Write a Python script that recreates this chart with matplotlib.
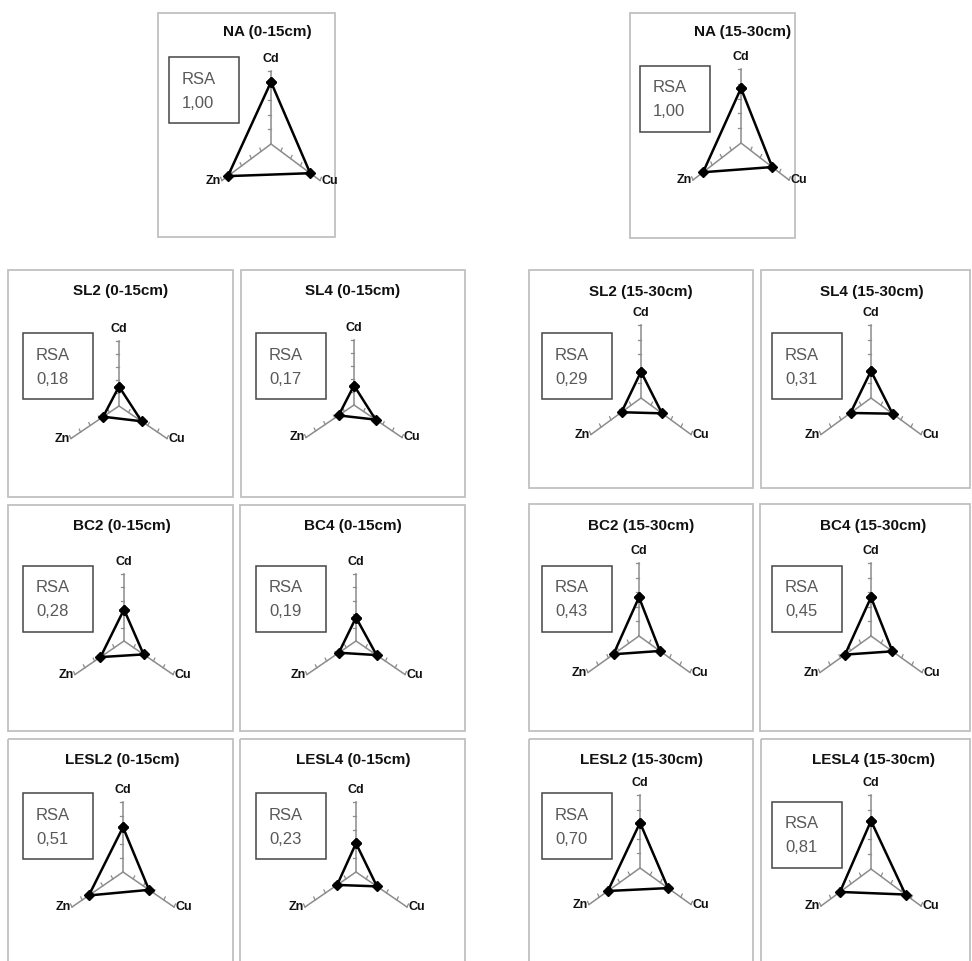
import numpy as np
import matplotlib
matplotlib.use("Agg")
import matplotlib.pyplot as plt
from matplotlib.patches import Rectangle

plt.rcParams["font.family"] = ["Liberation Sans", "DejaVu Sans"]

# ---- data -------------------------------------------------------------
elements = ["Cd", "Cu", "Zn"]

panels = [
    "NA (0-15cm)", "NA (15-30cm)",
    "SL2 (0-15cm)", "SL4 (0-15cm)", "SL2 (15-30cm)", "SL4 (15-30cm)",
    "BC2 (0-15cm)", "BC4 (0-15cm)", "BC2 (15-30cm)", "BC4 (15-30cm)",
    "LESL2 (0-15cm)", "LESL4 (0-15cm)", "LESL2 (15-30cm)", "LESL4 (15-30cm)",
]

cd = [0.85, 0.74, 0.30, 0.30, 0.36, 0.37, 0.47, 0.35, 0.53, 0.53, 0.64, 0.41, 0.62, 0.65]
cu = [0.80, 0.65, 0.47, 0.45, 0.42, 0.43, 0.40, 0.42, 0.41, 0.42, 0.51, 0.41, 0.55, 0.69]
zn = [0.88, 0.79, 0.33, 0.32, 0.39, 0.41, 0.48, 0.35, 0.50, 0.51, 0.67, 0.37, 0.63, 0.62]

rsa = ["1,00", "1,00", "0,18", "0,17", "0,29", "0,31", "0,28", "0,19",
       "0,43", "0,45", "0,51", "0,23", "0,70", "0,81"]

axis_ticks = [0.2, 0.4, 0.6, 0.8, 1.0]

# ---- layout (pixels) ----------------------------------------------------
# frame (x0, y0, x1, y1), radar centre, (horizontal reach, vertical radius),
# RSA box top-left, title centre
layout = [
    ((158, 13, 335, 237), (271, 144), (49, 73), (169, 57), (267, 32)),
    ((630, 13, 795, 238), (741, 143), (48, 74), (640, 66), (743, 32)),
    ((8, 270, 233, 497), (119, 406), (48, 65), (23, 333), (121, 291)),
    ((241, 270, 465, 497), (354, 405), (48, 65), (256, 333), (353, 291)),
    ((529, 270, 753, 488), (641, 398), (50, 73), (542, 333), (641, 292)),
    ((761, 270, 970, 488), (871, 398), (50, 73), (772, 333), (872, 292)),
    ((8, 505, 233, 731), (124, 641), (49, 67), (23, 566), (122, 526)),
    ((240, 505, 465, 731), (356, 641), (49, 67), (256, 566), (353, 526)),
    ((529, 504, 753, 731), (639, 636), (51, 73), (542, 566), (641, 526)),
    ((760, 504, 970, 731), (871, 636), (51, 73), (772, 566), (873, 526)),
    ((8, 739, 233, 975), (123, 872), (51, 70), (23, 793), (122, 760)),
    ((240, 739, 465, 975), (356, 872), (51, 70), (256, 793), (353, 760)),
    ((529, 739, 753, 975), (640, 868), (51, 73), (542, 793), (641, 760)),
    ((761, 739, 970, 975), (871, 869), (50, 74), (772, 802), (873, 760)),
]

W, H = 972, 961
DPI = 100
fig = plt.figure(figsize=(W / DPI, H / DPI), dpi=DPI)
fig.patch.set_facecolor("white")

# overlay in pixel coordinates for frames, titles and RSA boxes
base = fig.add_axes([0, 0, 1, 1])
base.set_xlim(0, W)
base.set_ylim(H, 0)
base.axis("off")

angles = np.array([0.0, 2 * np.pi / 3, 4 * np.pi / 3])
# side of each spoke on which its tick marks sit (toward the Cd spoke)
tick_side = [-1, -1, 1]
RSA_W, RSA_H = 70, 66
SPOKE = "#8c8c8c"

for i, name in enumerate(panels):
    (x0, y0, x1, y1), (cx, cy), (reach, rv), (bx, by), (tx, ty) = layout[i]

    base.add_patch(Rectangle((x0, y0), x1 - x0, y1 - y0, fill=False,
                             edgecolor="#c0c0c0", lw=1.3))
    base.text(tx, ty, name, ha="center", va="center", fontsize=11,
              fontweight="bold", color="#111111")

    base.add_patch(Rectangle((bx, by), RSA_W, RSA_H, fill=False,
                             edgecolor="#454545", lw=1.1))
    base.text(bx + 13, by + 22, "RSA", ha="left", va="center",
              fontsize=12, color="#595959")
    base.text(bx + 13, by + 46, rsa[i], ha="left", va="center",
              fontsize=12, color="#595959")

    # radar axes, stretched vertically like the original charts
    aw = 2 * reach / np.cos(np.pi / 6)
    ah = 2 * rv
    ax = fig.add_axes([(cx - aw / 2) / W, 1 - (cy + ah / 2) / H, aw / W, ah / H],
                      projection="polar")
    ax.set_aspect("auto")
    ax.set_theta_zero_location("N")
    ax.set_theta_direction(-1)
    ax.set_ylim(0, 1)
    ax.grid(False)
    ax.set_xticks([])
    ax.set_yticks([])
    ax.spines["polar"].set_visible(False)
    ax.patch.set_visible(False)

    for k, th in enumerate(angles):
        ax.plot([th, th], [0, 1], color=SPOKE, lw=1.1, clip_on=False,
                zorder=1)
        for r in axis_ticks:
            d = 0.05
            ax.plot([th, th + tick_side[k] * np.arctan(d / r)], [r, np.hypot(r, d)],
                    color=SPOKE, lw=0.9, clip_on=False, zorder=1)

    vals = [cd[i], cu[i], zn[i]]
    th_closed = np.append(angles, angles[0])
    v_closed = vals + [vals[0]]
    ax.plot(th_closed, v_closed, color="black", lw=1.8, marker="D",
            markersize=4.8, clip_on=False, zorder=3)

    lab_kw = dict(textcoords="offset points", fontsize=9, fontweight="bold",
                  color="#111111", annotation_clip=False)
    ax.annotate(elements[0], xy=(angles[0], 1.0), xytext=(0, 8.5),
                ha="center", va="center", **lab_kw)
    ax.annotate(elements[1], xy=(angles[1], 1.0), xytext=(1, 0),
                ha="left", va="center", **lab_kw)
    ax.annotate(elements[2], xy=(angles[2], 1.0), xytext=(-1, 0),
                ha="right", va="center", **lab_kw)

fig.savefig("out.png", dpi=DPI, facecolor="white")
